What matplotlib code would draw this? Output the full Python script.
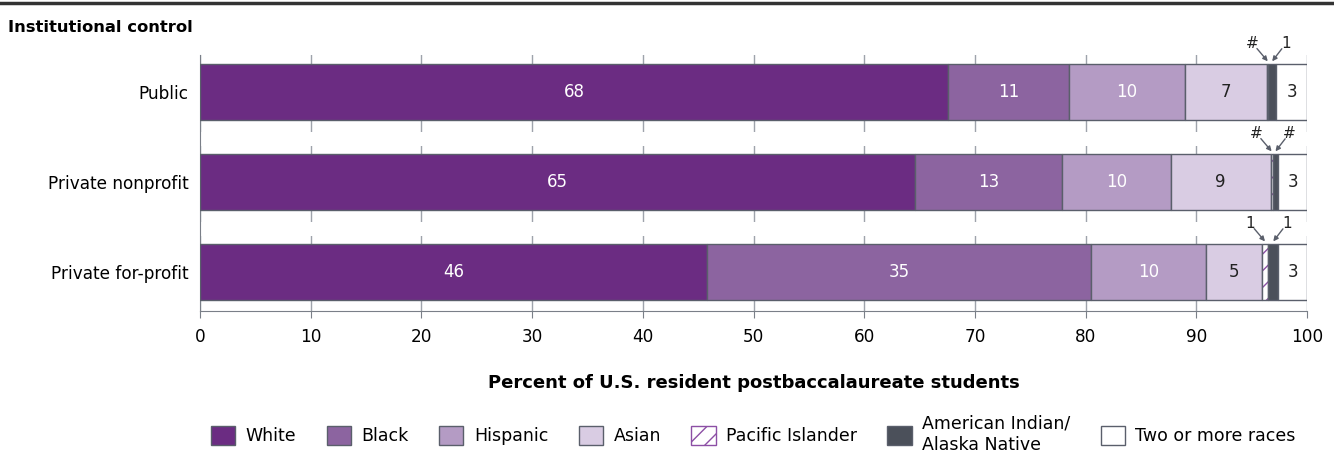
import numpy as np
import matplotlib.pyplot as plt
from matplotlib.patches import Patch
from matplotlib.lines import Line2D

plt.rcParams['font.family'] = ['DejaVu Sans']

categories = ['Public', 'Private nonprofit', 'Private for-profit']
groups = ['White', 'Black', 'Hispanic', 'Asian', 'Pacific Islander',
          'American Indian/\nAlaska Native', 'Two or more races']

white = [67.6, 64.6, 45.8]
black = [10.9, 13.3, 34.7]
hispanic = [10.5, 9.8, 10.4]
asian = [7.4, 9.0, 5.0]
pacific = [0.1, 0.2, 0.6]
aian = [0.7, 0.5, 0.9]
twoplus = [2.8, 2.6, 2.6]

# printed labels (as published, rounded)
white_lbl = ['68', '65', '46']
black_lbl = ['11', '13', '35']
hisp_lbl = ['10', '10', '10']
asian_lbl = ['7', '9', '5']
pac_lbl = ['#', '#', '1']
aian_lbl = ['1', '#', '1']
two_lbl = ['3', '3', '3']

colors = ['#6B2C82', '#8C64A0', '#B49BC4', '#D9CCE3', 'white', '#4B505A', 'white']
hatchColor = '#8C4FA5'
edgeCol = '#5A5F6B'
textCols = ['white', 'white', 'white', '#222222', None, None, '#222222']

series = [white, black, hispanic, asian, pacific, aian, twoplus]
labels = [white_lbl, black_lbl, hisp_lbl, asian_lbl, pac_lbl, aian_lbl, two_lbl]

fig = plt.figure(figsize=(13.34, 4.61), dpi=100)
ax = fig.add_axes([0.1499, 0.3254, 0.8299, 0.5553])

y = np.arange(len(categories))
barH = 0.62
left = np.zeros(len(categories))
for i, vals in enumerate(series):
    vals = np.array(vals)
    if i == 4:
        ax.barh(y, vals, left=left, height=barH, color='white', edgecolor=hatchColor,
                hatch='//', linewidth=0, zorder=3)
        ax.barh(y, vals, left=left, height=barH, color='none', edgecolor=edgeCol,
                linewidth=1, zorder=4)
    else:
        ax.barh(y, vals, left=left, height=barH, color=colors[i], edgecolor=edgeCol,
                linewidth=1, zorder=3)
    if textCols[i] is not None:
        for j in range(len(categories)):
            ax.text(left[j] + vals[j] / 2, y[j], labels[i][j], ha='center', va='center',
                    color=textCols[i], fontsize=12, zorder=5)
    left = left + vals

# small segment call-outs
starts_pac = np.array(white) + np.array(black) + np.array(hispanic) + np.array(asian)
for j in range(len(categories)):
    xp = starts_pac[j] + pacific[j] / 2
    xa = starts_pac[j] + pacific[j] + aian[j] / 2
    top = y[j] - barH / 2 - 0.03
    ax.annotate(pac_lbl[j], xy=(xp, top), xytext=(-11, 13), textcoords='offset points',
                ha='center', va='center', fontsize=11, color='#222222',
                arrowprops=dict(arrowstyle='-|>', color=edgeCol, lw=1, patchA=None,
                                mutation_scale=7, shrinkA=5, shrinkB=0), zorder=6)
    ax.annotate(aian_lbl[j], xy=(xa, top), xytext=(10, 13), textcoords='offset points',
                ha='center', va='center', fontsize=11, color='#222222',
                arrowprops=dict(arrowstyle='-|>', color=edgeCol, lw=1, patchA=None,
                                mutation_scale=7, shrinkA=5, shrinkB=0), zorder=6)

# grid with breaks midway between bars
for xv in range(0, 101, 10):
    ax.axvline(xv, color='#9EA3AB', lw=1, zorder=0.5)
for mid in [0.5, 1.5]:
    ax.axhspan(mid - 0.05, mid + 0.1, color='white', zorder=1, lw=0)

ax.set_xlim(0, 100)
ax.set_ylim(2.433, -0.41)
ax.set_yticks(y)
ax.set_yticklabels(categories, fontsize=12.2)
ax.tick_params(axis='y', length=0, pad=8)
ax.set_xticks(range(0, 101, 10))
ax.tick_params(axis='x', labelsize=12.2, length=5, color='#7A7F88', pad=7)
for s in ['top', 'right']:
    ax.spines[s].set_visible(False)
for s in ['left', 'bottom']:
    ax.spines[s].set_color('#7A7F88')

fig.text(0.5648, 0.169, 'Percent of U.S. resident postbaccalaureate students',
         fontsize=13, fontweight='bold', ha='center', va='center')
fig.text(0.006, 0.94, 'Institutional control', fontsize=11.8, fontweight='bold',
         ha='left', va='center')
fig.add_artist(Line2D([0, 1], [0.994, 0.994], color='#333333', lw=2.5,
                      transform=fig.transFigure))

handles = []
for i, g in enumerate(groups):
    if i == 4:
        handles.append(Patch(facecolor='white', edgecolor=hatchColor, hatch='//'))
    else:
        handles.append(Patch(facecolor=colors[i], edgecolor=edgeCol))
fig.legend(handles, groups, loc='center', bbox_to_anchor=(0.5648, 0.058), ncol=7,
           frameon=False, fontsize=12.5, handlelength=1.4, handleheight=1.3,
           handletextpad=0.6, columnspacing=1.75, labelspacing=0.1)

fig.savefig('out.png', dpi=100)
